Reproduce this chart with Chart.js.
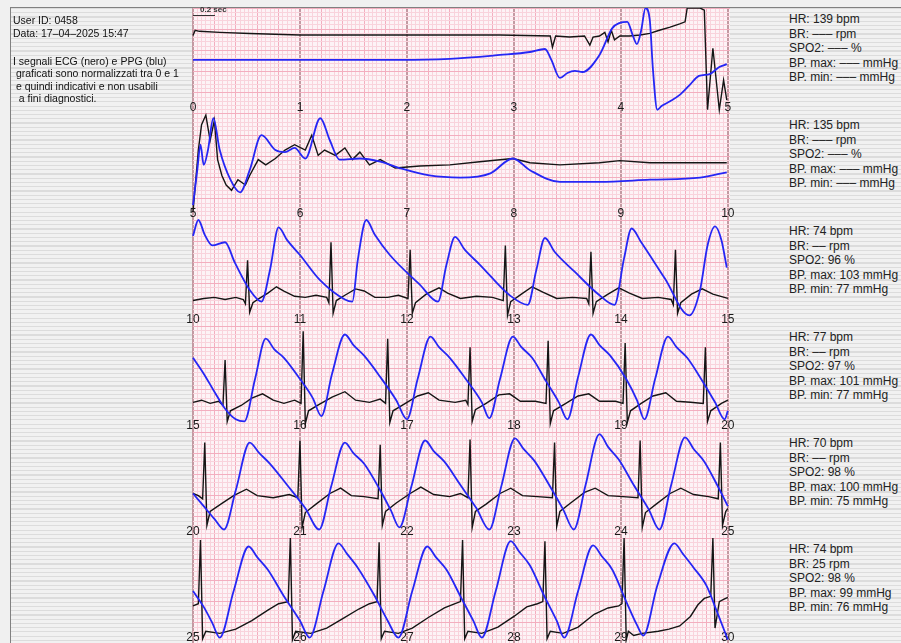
<!DOCTYPE html>
<html><head><meta charset="utf-8">
<script src="https://cdn.jsdelivr.net/npm/chart.js@4.4.0/dist/chart.umd.min.js"></script>
<style>
html,body{margin:0;padding:0;width:901px;height:643px;overflow:hidden;background:#f0f0f0;font-family:"Liberation Sans",Arial,sans-serif;}
#frame{position:absolute;left:10px;top:7px;width:900px;height:650px;border-left:1px solid #808080;border-top:1px solid #808080;
 background:repeating-linear-gradient(to bottom,#dcdcdc 0px,#dcdcdc 1.2px,#f1f1f1 1.2px,#f1f1f1 4.24px);}
#cv{position:absolute;left:183px;top:8px;}
.lt{position:absolute;left:13px;font-size:10.5px;line-height:13px;color:#111;white-space:pre;}
.rt{position:absolute;left:789px;font-size:12px;line-height:14.4px;color:#222;white-space:pre;}
#scl{position:absolute;left:200px;top:5px;font-size:8px;font-weight:bold;color:#333;}
#sclLine{position:absolute;left:193px;top:15px;width:22px;height:0;border-top:1.5px solid #333;}
</style></head><body>
<div id="frame"></div>
<canvas id="cv" width="557" height="636"></canvas>
<div id="scl">0.2 sec</div><div id="sclLine"></div>
<div class="lt" style="top:13.5px">User ID: 0458</div>
<div class="lt" style="top:26.5px">Data: 17–04–2025 15:47</div>
<div class="lt" style="top:54.5px">I segnali ECG (nero) e PPG (blu)</div>
<div class="lt" style="top:67px"> graficati sono normalizzati tra 0 e 1</div>
<div class="lt" style="top:79.5px"> e quindi indicativi e non usabili</div>
<div class="lt" style="top:92px">  a fini diagnostici.</div>
<div id="right"></div>
<script>
// ---- per-row vitals ----
const hrValues   = ['139','135','74','77','70','74'];
const brValues   = ['–––','–––','––','––','––','25'];
const spo2Values = ['–––','–––','96','97','98','98'];
const bpMaxValues= ['–––','–––','103','101','100','99'];
const bpMinValues= ['–––','–––','77','77','75','76'];

// ---- traces: [time s, normalized 0..1] ----
const ecg0 = [[0,0.74],[0.02,0.79],[0.06,0.78],[0.25,0.77],[0.53,0.76],[1.0,0.745],[1.93,0.745],[2.87,0.745],[3.34,0.736],[3.36,0.63],[3.39,0.736],[3.52,0.726],[3.66,0.736],[3.71,0.65],[3.74,0.726],[3.80,0.736],[3.85,0.77],[3.88,0.68],[3.91,0.79],[3.94,0.70],[3.99,0.736],[4.08,0.736],[4.18,0.745],[4.27,0.76],[4.36,0.79],[4.46,0.82],[4.55,0.85],[4.60,0.87],[4.62,1.0],[4.74,1.0],[4.78,0.98],[4.81,0.04],[4.86,0.62],[4.92,0.04],[4.96,0.32],[4.99,0.13]];
const ppg0 = [[0,0.51],[1.0,0.51],[1.93,0.51],[2.40,0.52],[2.87,0.557],[3.15,0.585],[3.29,0.613],[3.35,0.51],[3.43,0.34],[3.50,0.387],[3.57,0.406],[3.64,0.396],[3.80,0.557],[3.92,0.81],[3.99,0.86],[4.06,0.87],[4.11,0.745],[4.15,0.66],[4.19,0.79],[4.23,1.0],[4.27,0.887],[4.30,0.415],[4.34,0.04],[4.38,0.075],[4.46,0.12],[4.55,0.18],[4.64,0.27],[4.73,0.36],[4.83,0.377],[4.92,0.443],[4.99,0.47]];
const ecg1 = [[5.0,0.075],[5.05,0.66],[5.08,0.9],[5.12,0.99],[5.16,0.75],[5.2,0.94],[5.23,0.57],[5.27,0.42],[5.31,0.33],[5.36,0.28],[5.42,0.38],[5.49,0.33],[5.53,0.42],[5.61,0.57],[5.68,0.52],[5.77,0.58],[5.86,0.66],[5.95,0.71],[6.05,0.66],[6.11,0.8],[6.17,0.61],[6.23,0.66],[6.33,0.61],[6.42,0.68],[6.49,0.57],[6.56,0.64],[6.65,0.52],[6.75,0.57],[6.89,0.49],[7.12,0.51],[7.4,0.52],[7.68,0.55],[7.99,0.58],[8.15,0.54],[8.43,0.52],[8.8,0.54],[8.99,0.56],[9.27,0.54],[9.74,0.54],[9.99,0.54]];
const ppg1 = [[5.0,0.14],[5.04,0.47],[5.07,0.71],[5.1,0.52],[5.14,0.66],[5.19,0.96],[5.25,0.66],[5.35,0.38],[5.44,0.26],[5.53,0.47],[5.64,0.8],[5.77,0.66],[5.86,0.64],[5.95,0.68],[6.05,0.58],[6.19,0.96],[6.28,0.75],[6.37,0.57],[6.56,0.58],[6.75,0.55],[6.93,0.49],[7.21,0.42],[7.5,0.4],[7.78,0.44],[7.99,0.58],[8.15,0.47],[8.43,0.36],[8.8,0.36],[9.27,0.38],[9.74,0.4],[9.99,0.45]];
const ecg2 = [[10.0,0.24],[10.1,0.26],[10.2,0.27],[10.3,0.25],[10.4,0.27],[10.47,0.25],[10.49,0.21],[10.51,0.62],[10.53,0.13],[10.56,0.22],[10.62,0.26],[10.7,0.31],[10.78,0.37],[10.85,0.33],[10.95,0.28],[11.05,0.27],[11.15,0.29],[11.25,0.27],[11.27,0.22],[11.29,0.79],[11.31,0.12],[11.34,0.24],[11.42,0.29],[11.52,0.35],[11.6,0.33],[11.7,0.27],[11.82,0.27],[11.92,0.29],[12.01,0.26],[12.03,0.72],[12.05,0.12],[12.08,0.22],[12.18,0.3],[12.3,0.36],[12.38,0.31],[12.5,0.26],[12.65,0.28],[12.8,0.27],[12.9,0.24],[12.92,0.76],[12.94,0.1],[12.97,0.23],[13.07,0.3],[13.17,0.37],[13.27,0.32],[13.4,0.26],[13.55,0.27],[13.68,0.26],[13.7,0.21],[13.72,0.7],[13.74,0.12],[13.77,0.23],[13.88,0.3],[13.98,0.36],[14.08,0.31],[14.2,0.26],[14.35,0.27],[14.47,0.25],[14.49,0.2],[14.51,0.72],[14.53,0.12],[14.56,0.22],[14.66,0.3],[14.76,0.35],[14.86,0.3],[15.0,0.26]];
const ppg2 = [[10.0,0.85],[10.05,1.0],[10.11,0.86],[10.18,0.76],[10.3,0.79],[10.39,0.6],[10.53,0.34],[10.64,0.23],[10.72,0.53],[10.8,0.93],[10.88,0.81],[11.0,0.67],[11.19,0.43],[11.42,0.25],[11.49,0.23],[11.54,0.62],[11.62,1.0],[11.7,0.86],[11.84,0.67],[12.12,0.39],[12.29,0.23],[12.37,0.58],[12.45,0.84],[12.54,0.72],[12.68,0.58],[12.96,0.29],[13.13,0.2],[13.21,0.53],[13.29,0.83],[13.38,0.7],[13.57,0.51],[13.8,0.29],[13.94,0.2],[14.03,0.64],[14.1,0.92],[14.19,0.79],[14.41,0.45],[14.64,0.1],[14.74,0.34],[14.81,0.76],[14.88,0.94],[14.94,0.81],[14.99,0.55]];
const ecg3 = [[15.0,0.28],[15.08,0.3],[15.16,0.27],[15.24,0.29],[15.28,0.25],[15.3,0.68],[15.32,0.1],[15.35,0.2],[15.45,0.25],[15.55,0.32],[15.65,0.36],[15.75,0.3],[15.85,0.27],[15.95,0.3],[16.01,0.27],[16.03,0.95],[16.05,0.08],[16.08,0.2],[16.18,0.26],[16.3,0.33],[16.42,0.38],[16.52,0.3],[16.65,0.28],[16.75,0.31],[16.8,0.27],[16.82,0.88],[16.84,0.09],[16.87,0.2],[16.97,0.26],[17.1,0.34],[17.2,0.37],[17.3,0.3],[17.45,0.28],[17.55,0.3],[17.57,0.26],[17.59,0.8],[17.61,0.1],[17.64,0.21],[17.74,0.27],[17.86,0.35],[17.96,0.36],[18.06,0.29],[18.2,0.29],[18.3,0.27],[18.32,0.86],[18.34,0.08],[18.37,0.2],[18.47,0.26],[18.6,0.34],[18.7,0.36],[18.8,0.29],[18.95,0.29],[19.02,0.27],[19.04,0.84],[19.06,0.09],[19.09,0.2],[19.19,0.27],[19.3,0.34],[19.42,0.37],[19.52,0.29],[19.65,0.28],[19.77,0.27],[19.79,0.8],[19.81,0.1],[19.84,0.2],[19.94,0.27],[20.0,0.3]];
const ppg3 = [[15.0,0.7],[15.1,0.55],[15.2,0.38],[15.3,0.22],[15.4,0.12],[15.48,0.1],[15.58,0.5],[15.68,0.88],[15.76,0.78],[15.85,0.7],[16.0,0.5],[16.12,0.32],[16.2,0.15],[16.3,0.55],[16.42,0.92],[16.5,0.82],[16.6,0.72],[16.75,0.52],[16.9,0.3],[17.0,0.12],[17.1,0.5],[17.22,0.9],[17.3,0.8],[17.4,0.7],[17.55,0.5],[17.7,0.28],[17.77,0.13],[17.87,0.5],[17.99,0.9],[18.07,0.8],[18.17,0.7],[18.3,0.48],[18.42,0.28],[18.5,0.12],[18.6,0.52],[18.72,0.92],[18.8,0.82],[18.9,0.72],[19.05,0.5],[19.15,0.3],[19.22,0.12],[19.32,0.5],[19.44,0.9],[19.52,0.8],[19.62,0.7],[19.75,0.5],[19.88,0.28],[19.97,0.12],[20.0,0.2]];
const ecg4 = [[20.0,0.42],[20.05,0.4],[20.09,0.37],[20.11,0.9],[20.13,0.12],[20.16,0.25],[20.26,0.32],[20.38,0.4],[20.5,0.46],[20.6,0.4],[20.75,0.38],[20.9,0.41],[20.98,0.38],[21.0,0.92],[21.02,0.1],[21.05,0.24],[21.15,0.32],[21.28,0.42],[21.38,0.47],[21.48,0.4],[21.6,0.39],[21.73,0.37],[21.75,0.88],[21.77,0.12],[21.8,0.25],[21.9,0.33],[22.03,0.42],[22.13,0.48],[22.25,0.41],[22.4,0.39],[22.5,0.42],[22.57,0.38],[22.59,0.93],[22.61,0.1],[22.64,0.25],[22.74,0.32],[22.87,0.42],[22.97,0.47],[23.08,0.4],[23.22,0.39],[23.36,0.38],[23.38,0.9],[23.4,0.11],[23.43,0.25],[23.53,0.33],[23.66,0.43],[23.76,0.47],[23.88,0.4],[24.02,0.39],[24.16,0.38],[24.18,0.92],[24.2,0.1],[24.23,0.24],[24.33,0.32],[24.46,0.42],[24.56,0.47],[24.68,0.41],[24.82,0.39],[24.91,0.37],[24.93,0.9],[24.95,0.12],[24.98,0.25],[25.0,0.28]];
const ppg4 = [[20.0,0.42],[20.1,0.3],[20.2,0.18],[20.29,0.08],[20.4,0.45],[20.53,0.9],[20.62,0.8],[20.72,0.7],[20.88,0.5],[21.05,0.28],[21.18,0.08],[21.29,0.48],[21.42,0.9],[21.5,0.8],[21.6,0.7],[21.75,0.45],[21.85,0.26],[21.93,0.1],[22.04,0.48],[22.17,0.92],[22.25,0.82],[22.35,0.72],[22.5,0.5],[22.65,0.28],[22.77,0.08],[22.88,0.48],[23.01,0.94],[23.09,0.84],[23.19,0.73],[23.33,0.5],[23.46,0.27],[23.56,0.08],[23.67,0.5],[23.8,0.98],[23.88,0.86],[23.98,0.74],[24.12,0.5],[24.26,0.27],[24.36,0.08],[24.47,0.5],[24.6,0.95],[24.68,0.84],[24.78,0.72],[24.9,0.5],[25.0,0.3]];
const ecg5 = [[25.0,0.36],[25.05,0.38],[25.07,0.98],[25.09,0.05],[25.12,0.12],[25.25,0.1],[25.4,0.14],[25.55,0.22],[25.7,0.32],[25.8,0.38],[25.89,0.4],[25.91,1.0],[25.93,0.04],[25.96,0.12],[26.1,0.1],[26.25,0.15],[26.4,0.24],[26.55,0.33],[26.65,0.38],[26.72,0.4],[26.74,0.96],[26.76,0.05],[26.79,0.12],[26.92,0.1],[27.05,0.15],[27.2,0.25],[27.35,0.34],[27.45,0.38],[27.5,0.4],[27.52,0.98],[27.54,0.05],[27.57,0.12],[27.7,0.1],[27.85,0.16],[28.0,0.26],[28.12,0.35],[28.22,0.38],[28.27,0.4],[28.29,0.97],[28.31,0.05],[28.34,0.12],[28.46,0.1],[28.6,0.16],[28.75,0.28],[28.88,0.34],[28.98,0.36],[29.01,0.38],[29.03,1.0],[29.05,0.04],[29.07,0.12],[29.12,0.08],[29.2,0.1],[29.35,0.12],[29.45,0.14],[29.55,0.17],[29.65,0.26],[29.72,0.37],[29.78,0.43],[29.84,0.45],[29.86,1.0],[29.88,0.15],[29.92,0.4],[29.96,0.42],[30.0,0.44]];
const ppg5 = [[25.0,0.5],[25.1,0.35],[25.18,0.2],[25.25,0.06],[25.38,0.5],[25.52,0.92],[25.6,0.82],[25.7,0.7],[25.85,0.45],[26.0,0.22],[26.09,0.06],[26.22,0.5],[26.36,0.95],[26.44,0.85],[26.54,0.72],[26.7,0.45],[26.82,0.22],[26.92,0.06],[27.05,0.5],[27.19,0.92],[27.27,0.82],[27.37,0.7],[27.5,0.45],[27.62,0.22],[27.7,0.06],[27.83,0.5],[27.97,0.97],[28.05,0.87],[28.15,0.74],[28.28,0.46],[28.4,0.22],[28.47,0.06],[28.6,0.5],[28.74,0.93],[28.82,0.83],[28.92,0.7],[29.05,0.4],[29.15,0.18],[29.21,0.08],[29.34,0.55],[29.5,0.95],[29.58,0.85],[29.68,0.72],[29.8,0.55],[29.9,0.3],[30.0,0.04]];

const ecgRows = [ecg0, ecg1, ecg2, ecg3, ecg4, ecg5];
const ppgRows = [ppg0, ppg1, ppg2, ppg3, ppg4, ppg5];
const ROW_SEC = 5, ROWS = 6, EXTRA = 0.02, LABEL_LIFT = 0.13;

// right-hand vitals text
const right = document.getElementById('right');
for (let r = 0; r < ROWS; r++) {
  const d = document.createElement('div');
  d.className = 'rt';
  d.style.top = (8 + 106 * r + 4.3) + 'px';
  d.textContent = 'HR: ' + hrValues[r] + ' bpm\nBR: ' + brValues[r] + ' rpm\nSPO2: ' + spo2Values[r] + ' %\nBP. max: ' + bpMaxValues[r] + ' mmHg\nBP. min: ' + bpMinValues[r] + ' mmHg';
  right.appendChild(d);
}

const near = (v, s) => Math.abs(v / s - Math.round(v / s)) < 1e-6;
const MINOR = '#f9d3dc', MAJOR = '#f3aebf', SECOND = '#c39aa2';
const datasets = [];
const scales = {};
for (let r = 0; r < ROWS; r++) {
  datasets.push({label: 'PPG ' + r, data: ppgRows[r].map(p => ({x: p[0], y: p[1]})), xAxisID: 'x' + r, yAxisID: 'y' + r,
    borderColor: '#2626f5', borderWidth: 1.8, pointRadius: 0, cubicInterpolationMode: 'monotone', clip: false});
  datasets.push({label: 'ECG ' + r, data: ecgRows[r].map(p => ({x: p[0], y: p[1]})), xAxisID: 'x' + r, yAxisID: 'y' + r,
    borderColor: '#151515', borderWidth: 1.4, pointRadius: 0, tension: 0, clip: false});
  scales['x' + r] = {
    type: 'linear', min: ROW_SEC * r, max: ROW_SEC * (r + 1) + EXTRA,
    position: {y0: -r + LABEL_LIFT},
    border: {display: false},
    grid: r === 0 ? {
      drawTicks: false,
      color: c => near(c.tick.value, 1) ? SECOND : near(c.tick.value, 0.2) ? MAJOR : MINOR,
      lineWidth: c => near(c.tick.value, 1) ? 2 : 1
    } : {display: false, drawTicks: false},
    ticks: {stepSize: r === 0 ? 0.04 : 1, autoSkip: false, maxRotation: 0, minRotation: 0, includeBounds: false, padding: 0,
      color: '#1a1a1a', font: {family: 'Liberation Sans', size: 12},
      callback: v => near(v, 1) ? String(Math.round(v)) : ''}
  };
  scales['y' + r] = {
    type: 'linear', min: r - 5, max: r + 1, display: r === 0, position: 'left',
    border: {display: false},
    grid: {drawTicks: false,
      color: c => near(c.tick.value, 0.2) ? MAJOR : MINOR, lineWidth: 1},
    ticks: {display: false, stepSize: 0.04, autoSkip: false, includeBounds: false}
  };
}

const bgPlugin = {id: 'paper', beforeDraw(chart) {
  const {ctx, chartArea: a} = chart;
  ctx.save(); ctx.fillStyle = '#fdf3f6'; ctx.fillRect(a.left, a.top, a.right - a.left, a.bottom - a.top); ctx.restore();
}};

new Chart(document.getElementById('cv'), {
  type: 'line',
  data: {datasets},
  options: {
    responsive: false, animation: false, devicePixelRatio: 1,
    layout: {padding: {left: 10, right: 10, top: 0, bottom: 0}},
    plugins: {legend: {display: false}, tooltip: {enabled: false}},
    scales
  },
  plugins: [bgPlugin]
});
</script>
</body></html>
